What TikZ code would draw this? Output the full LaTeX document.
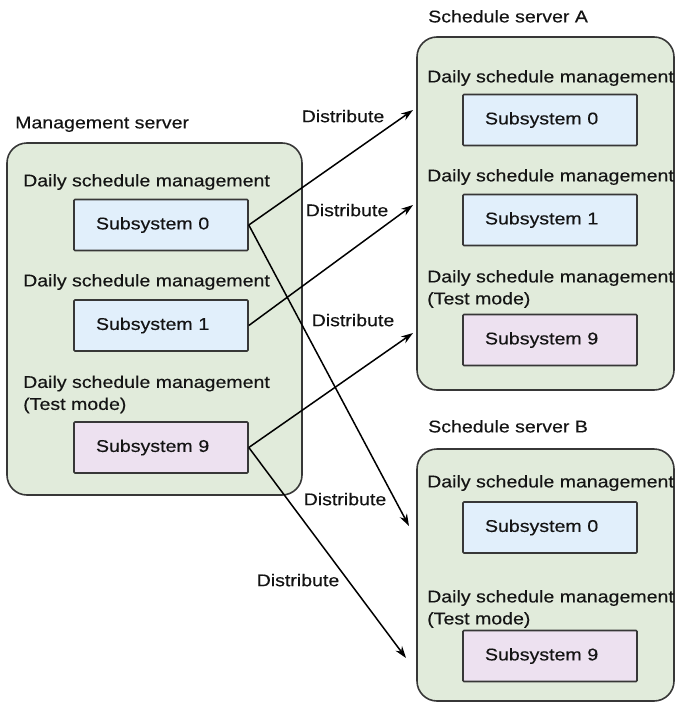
\documentclass[tikz,border=0pt]{standalone}
\usepackage{fontspec}
\setmainfont{Liberation Sans}[FakeStretch=1.15,FakeBold=0.35]
\usetikzlibrary{arrows.meta}
\definecolor{grn}{RGB}{225,235,219}
\definecolor{blu}{RGB}{225,239,251}
\definecolor{pnk}{RGB}{237,225,240}
\definecolor{edgec}{RGB}{55,55,55}
\definecolor{txtc}{RGB}{20,20,20}
\begin{document}
\begin{tikzpicture}[x=1pt,y=-1pt,
  font=\fontsize{17}{22}\selectfont, text=txtc,
  srv/.style={draw=edgec, fill=grn, line width=1.6pt, rounded corners=20pt, inner sep=0pt},
  subbox/.style={draw=edgec, line width=1.6pt, rounded corners=1pt, minimum width=174pt, minimum height=51pt,
     inner sep=0pt, text width=130pt, align=left},
  sb/.style={subbox, fill=blu},
  sp/.style={subbox, fill=pnk},
  lbl/.style={anchor=west, inner sep=0pt, text height=12.4pt, text depth=3.6pt},
  lbl2/.style={anchor=west, inner sep=0pt, align=left},
  dist/.style={inner sep=0pt, text height=12.4pt, text depth=0pt},
  arr/.style={line width=1.5pt, -{Stealth[length=12pt,width=8pt]}}
]
\useasboundingbox (0,0) rectangle (677,704);

% Management server
\node[lbl] (mgt) at (15,124) {Management server};
\node[srv, minimum width=295pt, minimum height=352pt] (mg) at (154.5,319) {};
\node[lbl] (mgl0) at (23,182) {Daily schedule management};
\node[sb] (m0) at (161,225) {Subsystem 0};
\node[lbl] (mgl1) at (23,282) {Daily schedule management};
\node[sb] (m1) at (161,325.5) {Subsystem 1};
\node[lbl2] (mgl9) at (23,394.5) {Daily schedule management\\(Test mode)};
\node[sp] (m9) at (161,447.5) {Subsystem 9};

% Schedule server A
\node[lbl] (at) at (428,18) {Schedule server A};
\node[srv, minimum width=257pt, minimum height=353pt] (sa) at (545.5,213.5) {};
\node[lbl] (al0) at (427,78) {Daily schedule management};
\node[sb] (a0) at (550,120) {Subsystem 0};
\node[lbl] (al1) at (427,177) {Daily schedule management};
\node[sb] (a1) at (550,220) {Subsystem 1};
\node[lbl2] (al9) at (427,289) {Daily schedule management\\(Test mode)};
\node[sp] (a9) at (550,340) {Subsystem 9};

% Schedule server B
\node[lbl] (bt) at (428,428) {Schedule server B};
\node[srv, minimum width=257pt, minimum height=252pt] (sbx) at (545.5,575) {};
\node[lbl] (bl0) at (427,483) {Daily schedule management};
\node[sb] (b0) at (550,527.5) {Subsystem 0};
\node[lbl2] (bl9) at (427,609) {Daily schedule management\\(Test mode)};
\node[sp] (b9) at (550,656) {Subsystem 9};

% arrow ends
\coordinate (ea0) at (413,110);
\coordinate (ea1) at (413,205);
\coordinate (ea9) at (413,333);
\coordinate (eb0) at (409,526);
\coordinate (eb9) at (406,658);

\draw[arr] (m0.east) -- (ea0);
\draw[arr] (m1.east) -- (ea1);
\draw[arr] (m9.east) -- (ea9);
\draw[arr] (m0.east) -- (eb0);
\draw[arr] (m9.east) -- (eb9);

\node[dist] (d1) at (343,116) {Distribute};
\node[dist] (d2) at (347,210) {Distribute};
\node[dist] (d3) at (353,320) {Distribute};
\node[dist] (d4) at (345,499) {Distribute};
\node[dist] (d5) at (298,580) {Distribute};
\end{tikzpicture}
\end{document}
